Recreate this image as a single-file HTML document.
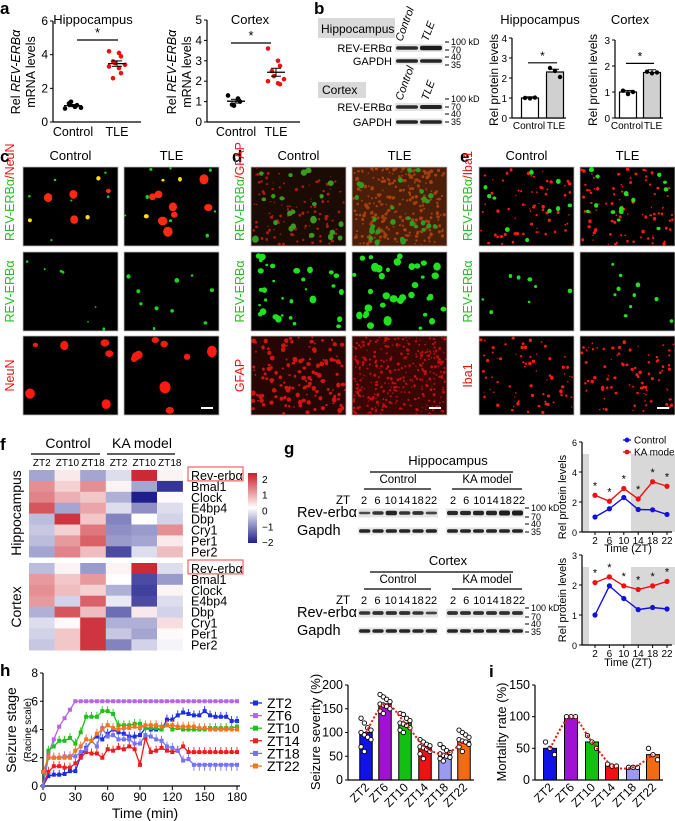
<!DOCTYPE html>
<html><head><meta charset="utf-8"><style>
html,body{margin:0;padding:0;background:#fff}
svg{display:block;font-family:"Liberation Sans",Arial,sans-serif}
</style></head><body>
<svg id="fig" width="675" height="821" viewBox="0 0 675 821" xmlns="http://www.w3.org/2000/svg">
<g id="static" font-size="11" fill="#000">
<text x="0" y="14" font-size="17" font-weight="bold">a</text>
<text x="314" y="14" font-size="17" font-weight="bold">b</text>
<text x="0" y="162" font-size="17" font-weight="bold">c</text>
<text x="232" y="162" font-size="17" font-weight="bold">d</text>
<text x="460" y="162" font-size="17" font-weight="bold">e</text>
<text x="0" y="450" font-size="17" font-weight="bold">f</text>
<text x="284" y="454" font-size="17" font-weight="bold">g</text>
<text x="0" y="676" font-size="17" font-weight="bold">h</text>
<text x="489" y="677" font-size="17" font-weight="bold">i</text>

<text x="93" y="24" font-size="13" text-anchor="middle">Hippocampus</text>
<text x="250" y="24" font-size="13" text-anchor="middle">Cortex</text>
<text transform="translate(20,72) rotate(-90)" font-size="12.5" text-anchor="middle">Rel <tspan font-style="italic">REV-ERBα</tspan></text>
<text transform="translate(35,72) rotate(-90)" font-size="12.5" text-anchor="middle">mRNA levels</text>
<text transform="translate(176,72) rotate(-90)" font-size="12.5" text-anchor="middle">Rel <tspan font-style="italic">REV-ERBα</tspan></text>
<text transform="translate(191,72) rotate(-90)" font-size="12.5" text-anchor="middle">mRNA levels</text>

<rect x="318" y="18" width="77" height="20" fill="#d9d9d9"/>
<text x="321" y="33" font-size="12">Hippocampus</text>
<rect x="318" y="82" width="48" height="16" fill="#d9d9d9"/>
<text x="322" y="94" font-size="12">Cortex</text>
<text x="392" y="52" font-size="11" text-anchor="end">REV-ERBα</text>
<text x="392" y="65" font-size="11" text-anchor="end">GAPDH</text>
<text x="392" y="111" font-size="11" text-anchor="end">REV-ERBα</text>
<text x="392" y="126" font-size="11" text-anchor="end">GAPDH</text>
<text transform="translate(402,42) rotate(-70)" font-size="11" font-style="italic">Control</text>
<text transform="translate(428,42) rotate(-70)" font-size="11" font-style="italic">TLE</text>
<text transform="translate(402,101) rotate(-70)" font-size="11" font-style="italic">Control</text>
<text transform="translate(428,101) rotate(-70)" font-size="11" font-style="italic">TLE</text>
<text x="540" y="24" font-size="13" text-anchor="middle">Hippocampus</text>
<text x="630" y="24" font-size="13" text-anchor="middle">Cortex</text>
<text transform="translate(498,80) rotate(-90)" font-size="12" text-anchor="middle">Rel protein levels</text>
<text transform="translate(597,80) rotate(-90)" font-size="12" text-anchor="middle">Rel protein levels</text>

<text x="68" y="448" font-size="14" text-anchor="middle">Control</text>
<line x1="31" y1="454" x2="100" y2="454" stroke="#000" stroke-width="1.2"/>
<text x="142" y="448" font-size="14" text-anchor="middle">KA model</text>
<line x1="107" y1="454" x2="175" y2="454" stroke="#000" stroke-width="1.2"/>
<text transform="translate(21,513) rotate(-90)" font-size="14" text-anchor="middle">Hippocampus</text>
<text transform="translate(21,607) rotate(-90)" font-size="14" text-anchor="middle">Cortex</text>

<text transform="translate(566,497) rotate(-90)" font-size="11" text-anchor="middle">Rel protein levels</text>
<text transform="translate(566,600) rotate(-90)" font-size="11" text-anchor="middle">Rel protein levels</text>
<text x="628" y="552" font-size="11" text-anchor="middle">Time (ZT)</text>
<text x="628" y="666" font-size="11" text-anchor="middle">Time (ZT)</text>

<text transform="translate(16,730) rotate(-90)" font-size="14" text-anchor="middle">Seizure stage</text>
<text transform="translate(31,730) rotate(-90)" font-size="10" text-anchor="middle">(Racine scale)</text>
<text x="145" y="818" font-size="14" text-anchor="middle">Time (min)</text>
<text transform="translate(320,732) rotate(-90)" font-size="13" text-anchor="middle">Seizure severity (%)</text>
<text transform="translate(506,732) rotate(-90)" font-size="13" text-anchor="middle">Mortality rate (%)</text>
</g>
<g id="dyn"></g>
</svg>
<script>
// ---------- data ----------
const aHippCtrl=[0.8,0.9,1.0,1.1,1.2,0.85];
const aHippTle=[4.2,4.1,3.9,3.6,3.5,3.4,3.3,3.2,2.9,2.6];
const aCtxCtrl=[1.3,1.15,1.0,0.85,0.8];
const aCtxTle=[3.6,3.0,2.75,2.5,2.25,2.1,2.0,1.9,1.85];
const bCats=['Control','TLE'];
const bHippVals=[1.0,2.3];
const bHippPts=[[1.0,0.98,1.02],[2.5,2.35,2.05]];
const bCtxVals=[1.0,1.75];
const bCtxPts=[[1.05,0.92,1.0],[1.78,1.72,1.75]];
const hmCols=['ZT2','ZT10','ZT18','ZT2','ZT10','ZT18'];
const hmGenes=['Rev-erbα','Bmal1','Clock','E4bp4','Dbp','Cry1','Per1','Per2'];
const hmHipp=[[-0.8,0.2,-0.8,-0.3,1.9,0.1],[1.0,0.4,1.0,0.1,-0.8,-1.8],[1.1,0.7,0.5,-0.7,-2,0.05],[1.5,-0.8,0.8,-0.3,-1.0,-0.3],[-0.6,1.8,0.5,-1.1,0,-0.4],[-0.5,0.4,1.2,-1.0,-0.9,1.0],[-0.6,0.9,1.4,-0.9,-0.8,0.2],[-0.8,1.1,0.6,-1.6,-0.3,0.6]];
const hmCtx=[[-0.6,0.1,-0.9,0.1,1.9,-0.3],[0.9,0.5,0.9,0,-1.6,-0.9],[1.0,0.6,0.4,-0.7,-1.7,0.1],[0.9,-0.4,1.4,-0.2,-1.6,-0.3],[-0.7,1.5,0.6,-1.3,0.2,-0.4],[-0.3,0.05,1.8,-0.7,-0.7,0.3],[-0.4,0.5,1.8,-0.5,-0.8,0.05],[-0.5,0.5,1.8,-1.1,-0.4,-0.1]];
const zt=[2,6,10,14,18,22];
const gHippCtrl=[1.0,1.55,2.3,1.5,1.48,1.17];
const gHippKA=[2.45,2.05,2.9,2.2,3.35,3.05];
const gCtxCtrl=[1.0,1.97,1.55,1.18,1.25,1.2];
const gCtxKA=[2.08,2.27,1.97,1.85,1.97,2.12];
const gHippBand=[0.55,0.8,1.0,0.8,0.85,0.6,0.95,0.95,1.0,1.0,1.1,1.1];
const gCtxBand=[0.8,0.85,0.85,0.85,0.8,0.6,0.85,0.85,0.85,0.85,0.85,0.85];
const hNames=['ZT2','ZT6','ZT10','ZT14','ZT18','ZT22'];
const hZT2=[0,0.7,0.8,0.8,0.85,1.05,1.05,2.1,2.7,3.2,3.5,3.3,3.7,4,3.8,3.7,3.5,3.5,3.6,4.1,4,4,4,4.7,4.7,5,5.2,5.1,5,5,5.3,5,4.9,4.9,4.9,4.6,4.6];
const hZT6=[0,2.3,3.3,4.2,4.8,5.4,6,6,6,6,6,6,6,6,6,6,6,6,6,6,6,6,6,6,6,6,6,6,6,6,6,6,6,6,6,6,6];
const hZT10=[0,2.5,2.8,3.2,3.2,3.4,3,3.8,4.9,4.9,4.9,5.3,5.3,5.1,4.3,4.3,4.3,4.4,4.4,4.1,4.1,4.1,4,4.3,4,4.1,4,4,4,4,4,4.1,4.1,4.1,4.1,4.1,4.2];
const hZT14=[0,1,1.4,1.4,1.3,1.3,1.6,2,2.4,2.3,2.3,2,2.6,2.5,2.7,2.6,2.8,2.6,1.5,3.4,2.4,2.5,2.7,2.5,2.4,2.5,2.8,2.4,2.4,2.4,2.4,2.4,2.4,2.4,2.4,2.4,2.4];
const hZT18=[0,2,2,2,2.1,2.1,2.1,2.4,2.6,3.2,2.8,4.1,3.5,3.6,3.3,3.3,3.3,3,3,3.6,3.5,3.3,3.2,2.8,2.7,2.5,1.8,1.9,1.5,1.5,1.5,1.5,1.5,1.5,1.5,1.5,1.5];
const hZT22=[1,2,2,2,2,2,2.5,2.8,3.3,3.2,3.7,4,4.3,4.1,4,4.1,4.1,4.2,4.1,4.3,4.3,4.3,4.2,4.3,4.3,4.2,4.2,4.2,4.2,4.1,4.1,4,4,4,4,4,4];
const hSeries=[hZT2,hZT6,hZT10,hZT14,hZT18,hZT22];
const hXTicks=[0,30,60,90,120,150,180];
const hYTicks=[0,2,4,6,8];
const sevVals=[100,160,120,70,55,82];
const sevPts=[[130,120,110,105,100,95,90,85,70,60],[180,175,170,165,160,158,155,150,145,140],[140,138,130,125,120,118,115,110,105,100],[85,80,75,72,70,68,65,60,55,45],[75,68,62,58,55,52,50,48,45,40],[105,100,95,90,85,82,80,75,70,60]];
const sevTicks=[0,50,100,150,200];
const mortVals=[50,100,60,23,20,40];
const mortPts=[[60,50,40],[100,100,100],[70,60,50],[25,22,22],[20,20,20],[50,40,32]];
const mortTicks=[0,50,100,150];
const barColors=['#1212e6','#a012d2','#12c012','#f01212','#9a9af2','#f26a12'];
const lineColors=['#1a2ee6','#b764e6','#1cc21c','#f01c1c','#7474f2','#f27424'];

// ---------- helpers ----------
const NS='http://www.w3.org/2000/svg';
const root=document.getElementById('dyn');
function mk(tag,attrs,parent){const e=document.createElementNS(NS,tag);for(const k in attrs)e.setAttribute(k,attrs[k]);(parent||root).appendChild(e);return e;}
function txt(s,attrs,parent){const e=mk('text',attrs,parent);e.textContent=s;return e;}
function yAxis(x,scale,ticks,labels,name,fs){
  const g=mk('g',{});
  
  
  mk('line',{x1:x,y1:scale(ticks[ticks.length-1]),x2:x,y2:scale(ticks[0]),stroke:'#000','stroke-width':1.2},g);
  ticks.forEach((t,i)=>{
    mk('line',{x1:x-3,y1:scale(t),x2:x,y2:scale(t),stroke:'#000','stroke-width':1},g);
    const l=txt(labels?labels[i]:String(t),{x:x-5,y:scale(t)+4,'text-anchor':'end','font-size':fs||11},g);
    
    
  });
  return g;
}
function xLine(x1,x2,y){mk('line',{x1:x1,y1:y,x2:x2,y2:y,stroke:'#000','stroke-width':1.2});}
function mean(a){return a.reduce((s,v)=>s+v,0)/a.length;}
function sem(a){const m=mean(a);return Math.sqrt(a.reduce((s,v)=>s+(v-m)*(v-m),0)/(a.length-1))/Math.sqrt(a.length);}

// ---------- panel a ----------
function scatterPanel(axisX,y0,top,maxV,ticks,ctrl,tle,cx,tx,name,sigY,sigX1,sigX2){
  const sc=v=>y0-v*(y0-top)/maxV;
  yAxis(axisX,sc,ticks,null,name+'-y-axis',12);
  xLine(axisX,tx+24,y0);
  [[ctrl,cx,'#000'],[tle,tx,'#f01010']].forEach(([arr,x,col],gi)=>{
    arr.forEach((v,i)=>{
      const off=((i%3)-1)*6+(i%2?2:-2);
      const c=mk('circle',{cx:x+off,cy:sc(v),r:2.3,fill:col});
      
      
    });
    const m=mean(arr),s=sem(arr);
    mk('line',{x1:x-9,y1:sc(m),x2:x+9,y2:sc(m),stroke:'#000','stroke-width':1.3});
    mk('line',{x1:x,y1:sc(m-s),x2:x,y2:sc(m+s),stroke:'#000','stroke-width':1});
    mk('line',{x1:x-5,y1:sc(m-s),x2:x+5,y2:sc(m-s),stroke:'#000','stroke-width':1});
    mk('line',{x1:x-5,y1:sc(m+s),x2:x+5,y2:sc(m+s),stroke:'#000','stroke-width':1});
    const l=txt(gi?'TLE':'Control',{x:x,y:y0+14,'text-anchor':'middle','font-size':12.5});
    
    
  });
  mk('line',{x1:sigX1,y1:sigY,x2:sigX2,y2:sigY,stroke:'#000','stroke-width':1.3});
  txt('*',{x:(sigX1+sigX2)/2,y:sigY-3,'text-anchor':'middle','font-size':13});
}
scatterPanel(53,122,21,6,[0,2,4,6],aHippCtrl,aHippTle,73,117,'a-hipp',40,77,118);
scatterPanel(207,122,20,5,[0,1,2,3,4,5],aCtxCtrl,aCtxTle,236,276,'a-ctx',43,231,271);

// ---------- panel b ----------
function blot(x,y,w,h,n,intens,name){
  const g=mk('g',{});
  
  
  mk('rect',{x:x,y:y-h,width:w,height:h*2,fill:'#e4e4e4'},g);
  const lw=w/n;
  for(let i=0;i<n;i++){
    const v=intens[i];
    mk('rect',{x:x+i*lw+1,y:y-h/2*v,width:lw-2,height:h*v,rx:2,fill:'#1a1a1a',opacity:Math.min(1,0.55+v*0.4)},g);
  }
  return g;
}
function kd(x,y,labels){labels.forEach(([t,dy])=>{mk('line',{x1:x,y1:y+dy,x2:x+4,y2:y+dy,stroke:'#000'});txt(t,{x:x+6,y:y+dy+3,'font-size':9});});}
blot(395,48,48,4,2,[0.9,1.1],'b-hipp-rev-blot');
blot(395,61,48,3.5,2,[1,1],'b-hipp-gapdh-blot');
blot(395,107,48,4,2,[0.9,1.0],'b-ctx-rev-blot');
blot(395,122,48,3.5,2,[1,1],'b-ctx-gapdh-blot');
kd(445,40,[['100 kD',2],['70',10],['40',17],['35',25]]);
kd(445,97,[['100 kD',2],['70',10],['40',17],['35',25]]);
function barPair(axisX,y0,top,maxV,ticks,vals,pts,xs,name){
  const sc=v=>y0-v*(y0-top)/maxV;
  yAxis(axisX,sc,ticks,null,name+'-y-axis',10);
  xLine(axisX,xs[1]+11,y0);
  vals.forEach((v,i)=>{
    const r=mk('rect',{x:xs[i]-8.5,y:sc(v),width:17,height:y0-sc(v),fill:i?'#d0d0d0':'#fff',stroke:'#000','stroke-width':1.2});
    
    
    pts[i].forEach((p,j)=>{const c=mk('circle',{cx:xs[i]-5+j*5,cy:sc(p),r:2.2,fill:'#000'});
      
      });
    mk('line',{x1:xs[i],y1:sc(v*1.06),x2:xs[i],y2:sc(v),stroke:'#000'});
    mk('line',{x1:xs[i]-4,y1:sc(v*1.06),x2:xs[i]+4,y2:sc(v*1.06),stroke:'#000'});
    const l=txt(bCats[i],{x:xs[i]+(i?1:-1),y:y0+11,'text-anchor':'middle','font-size':10});
    
    
  });
  const sy=sc(Math.max(...vals)*1.2);
  mk('line',{x1:xs[0]-2,y1:sy,x2:xs[1]+2,y2:sy,stroke:'#000','stroke-width':1.2});
  txt('*',{x:(xs[0]+xs[1])/2,y:sy-3,'text-anchor':'middle','font-size':12});
}
barPair(512,118,38,4,[0,1,2,3,4],bHippVals,bHippPts,[530,555],'b-hipp');
barPair(615,118,40,3,[0,1,2,3],bCtxVals,bCtxPts,[628,652],'b-ctx');

// ---------- microscopy panels (decorative texture) ----------
let seed=7;function rnd(){seed=(seed*16807)%2147483647;return seed/2147483647;}
function speck(g,x,y,w,h,n,col,rmin,rmax){for(let i=0;i<n;i++){const r=rmin+rnd()*(rmax-rmin);mk('ellipse',{cx:x+r+rnd()*(w-2*r),cy:y+r+rnd()*(h-2*r),rx:r,ry:r*(0.8+rnd()*0.4),fill:col},g);}}
const cols=[[23,124],[251,352],[479,580]];
const rows=[167,252,336];
const IW=95,IH=79;
const specs=[
 [[['#ff2a10',4,2.5,4.5],['#ffe000',3,1.5,2.2],['#20d020',6,0.8,1.4]],[['#ff2a10',8,2.5,5],['#ffe000',3,1.5,2.5],['#20d020',8,1,1.8]]],
 [[['#20d020',7,0.8,1.5]],[['#20d020',10,1,2.5]]],
 [[['#ff1a10',6,2.5,5]],[['#ff1a10',9,2.5,5.5]]],
 [[['#b01a0c',110,0.6,1.6],['#3a9a20',22,2,3.5]],[['#a5400e',260,0.8,1.8],['#2f9a20',28,2,3]]],
 [[['#20e020',32,1.2,3.5]],[['#20e020',36,1.8,4.2]]],
 [[['#d01510',140,0.8,2.5]],[['#c01010',330,0.6,1.5]]],
 [[['#ff1a10',70,0.6,1.8],['#20e020',10,1.8,2.6]],[['#ff1a10',90,0.6,1.8],['#20e020',14,1.8,2.6]]],
 [[['#20e020',8,1.3,2.4]],[['#20e020',10,1.3,2.4]]],
 [[['#ff1a10',70,0.6,1.8]],[['#ff1a10',85,0.6,1.7]]]
];
const baseFill=[['#000','#000'],['#000','#000'],['#000','#000'],['#1a0c04','#4a1e08'],['#000','#000'],['#260604','#3a0604'],['#000','#000'],['#000','#000'],['#000','#000']];
const rowNames=[['merged','rev-erba','neun'],['merged','rev-erba','gfap'],['merged','rev-erba','iba1']];
const panelNames=['c','d','e'];
for(let p=0;p<3;p++){
  for(let r=0;r<3;r++){
    for(let c=0;c<2;c++){
      const g=mk('g',{});
      
      
      const x=cols[p][c],y=rows[r];
      mk('rect',{x:x,y:y,width:IW,height:IH,fill:baseFill[p*3+r][c],stroke:'#bbb','stroke-width':0.8},g);
      specs[p*3+r][c].forEach(s=>speck(g,x,y,IW,IH,s[1],s[0],s[2],s[3]));
      if(r===2&&c===1)mk('rect',{x:x+IW-18,y:y+IH-8,width:12,height:2,fill:'#fff'},g);
    }
  }
  const t1=txt('Control',{x:cols[p][0]+IW/2,y:160,'text-anchor':'middle','font-size':13});
  
  
  const t2=txt('TLE',{x:cols[p][1]+IW/2,y:160,'text-anchor':'middle','font-size':13});
  
  
}
const sideLabels=[['NeuN','NeuN'],['GFAP','GFAP'],['Iba1','Iba1']];
const sideX=[14,244,472];
for(let p=0;p<3;p++){
  const l1=mk('text',{transform:`translate(${sideX[p]},${rows[0]+IH-5}) rotate(-90)`,'text-anchor':'start','font-size':12.5});
  
  
  const a=mk('tspan',{fill:'#22c022'},l1);a.textContent='REV-ERBα';
  const b=mk('tspan',{fill:'#ee1010'},l1);b.textContent='/'+sideLabels[p][0];
  const l2=txt('REV-ERBα',{transform:`translate(${sideX[p]},${rows[1]+IH/2}) rotate(-90)`,'text-anchor':'middle','font-size':12.5,fill:'#22c022'});
  
  
  const l3=txt(sideLabels[p][1],{transform:`translate(${sideX[p]},${rows[2]+IH/2}) rotate(-90)`,'text-anchor':'middle','font-size':12.5,fill:'#ee1010'});
  
  
}

// ---------- panel f heatmap ----------
function heatCol(v){v=Math.max(-2,Math.min(2,v));let t=Math.abs(v)/2;const e=v>0?[200,30,40]:[30,30,140];
  return `rgb(${Math.round(255+(e[0]-255)*t)},${Math.round(255+(e[1]-255)*t)},${Math.round(255+(e[2]-255)*t)})`;}
const HX=29,HW=25.6,HH=10.9;
hmCols.forEach((c,i)=>{const l=txt(c,{x:HX+HW*i+HW/2,y:466,'text-anchor':'middle','font-size':10});
  
  });
[[hmHipp,470,'hipp'],[hmCtx,563,'ctx']].forEach(([m,y0,nm])=>{
  m.forEach((row,r)=>{
    row.forEach((v,c)=>{const cell=mk('rect',{x:HX+c*HW,y:y0+r*HH,width:HW+0.3,height:HH+0.3,fill:heatCol(v)});
      
      });
    const l=txt(hmGenes[r],{x:191,y:y0+r*HH+HH/2+4.5,'font-size':12.5});
    
    
  });
  const box=mk('rect',{x:188,y:y0-3,width:55,height:HH+3,fill:'none',stroke:'#f04040','stroke-width':1});
  
  
});
const defs=mk('defs',{});
const grad=mk('linearGradient',{id:'cb',x1:0,y1:0,x2:0,y2:1},defs);
[[0,2],[0.5,0],[1,-2]].forEach(([o,v])=>mk('stop',{offset:o,'stop-color':heatCol(v)},grad));
const cbar=mk('rect',{x:248,y:473,width:9,height:70,fill:'url(#cb)'});


[2,1,0,-1,-2].forEach(v=>{const l=txt(v<0?'−'+(-v):String(v),{x:262,y:510.5-v*15.8+4,'font-size':10});
  
  });

// ---------- panel g blots ----------
function gBlot(y,title,bandRev){
  txt(title,{x:448,y:y,'text-anchor':'middle','font-size':13});
  mk('line',{x1:370,y1:y+7,x2:513,y2:y+7,stroke:'#000','stroke-width':1.2});
  txt('Control',{x:398,y:y+18,'text-anchor':'middle','font-size':11.5});
  mk('line',{x1:364,y1:y+24,x2:431,y2:y+24,stroke:'#000','stroke-width':1.2});
  txt('KA model',{x:487,y:y+18,'text-anchor':'middle','font-size':11.5});
  mk('line',{x1:452,y1:y+24,x2:522,y2:y+24,stroke:'#000','stroke-width':1.2});
  txt('ZT',{x:343,y:y+39,'text-anchor':'middle','font-size':11.5});
  zt.forEach((z,i)=>{txt(String(z),{x:364+i*13.4,y:y+39,'text-anchor':'middle','font-size':11});txt(String(z),{x:453+i*13.2,y:y+39,'text-anchor':'middle','font-size':11});});
  txt('Rev-erbα',{x:297,y:y+52,'font-size':14.5});
  txt('Gapdh',{x:297,y:y+70,'font-size':14.5});
  blot(358,y+48,80,4.5,6,bandRev.slice(0,6),'g-control-rev-blot');
  blot(446,y+48,78,4.5,6,bandRev.slice(6),'g-ka-rev-blot');
  blot(358,y+66,80,3.5,6,[1,1,1,1,1,1],'g-control-gapdh-blot');
  blot(446,y+66,78,3.5,6,[1,1,1,1,1,1],'g-ka-gapdh-blot');
  kd(525,y+43,[['100 kD',0],['70',9],['40',16],['35',24]]);
}
gBlot(465,'Hippocampus',gHippBand);
gBlot(565,'Cortex',gCtxBand);

// ---------- panel g line charts ----------
function gChart(y0,top,maxV,ticks,ctrl,ka,shadeV,name,legend){
  const sy=v=>y0-v*(y0-top)/maxV;
  const sx=z=>595+(z-2)*72/20;
  mk('rect',{x:582,y:sy(shadeV),width:7,height:y0-sy(shadeV),fill:'#d8d8d8'});
  mk('rect',{x:631,y:sy(shadeV),width:44,height:y0-sy(shadeV),fill:'#d8d8d8'});
  yAxis(582,sy,ticks,null,name+'-y-axis',9);
  xLine(582,672,y0);
  zt.forEach(z=>{mk('line',{x1:sx(z),y1:y0,x2:sx(z),y2:y0+3,stroke:'#000'});
    const l=txt(String(z),{x:sx(z),y:y0+12,'text-anchor':'middle','font-size':10});
    
    });
  [[ctrl,'#1010e0','control'],[ka,'#f01010','ka']].forEach(([arr,col,nm])=>{
    const ln=mk('polyline',{points:arr.map((v,i)=>sx(zt[i])+','+sy(v)).join(' '),fill:'none',stroke:col,'stroke-width':1.4});
    
    
    arr.forEach((v,i)=>{const c=mk('circle',{cx:sx(zt[i]),cy:sy(v),r:2.6,fill:col});
      
      
      if(nm==='ka')txt('*',{x:sx(zt[i]),y:sy(v)-6,'text-anchor':'middle','font-size':11});});
  });
  if(legend){
    [['Control','#1010e0',440],['KA model','#f01010',452]].forEach(([t,c,y])=>{
      mk('line',{x1:623,y1:y,x2:631,y2:y,stroke:c,'stroke-width':1.3});
      mk('circle',{cx:627,cy:y,r:2.4,fill:c});
      const l=txt(t,{x:634,y:y+3.5,'font-size':10});
      
      
    });
  }
}
gChart(532,442,6,[0,2,4,6],gHippCtrl,gHippKA,5.2,'g-hipp',true);
gChart(645,555,3,[0,1,2,3],gCtxCtrl,gCtxKA,2.6,'g-ctx',false);

// ---------- panel h ----------
(function(){
  const sx=t=>43+t*194/180, sy=v=>786-v*113/8;
  yAxis(43,sy,hYTicks,null,'h-y-axis',12);
  xLine(43,240,786);
  hXTicks.forEach(t=>{mk('line',{x1:sx(t),y1:786,x2:sx(t),y2:790,stroke:'#000'});
    const l=txt(String(t),{x:sx(t),y:801,'text-anchor':'middle','font-size':12});
    
    });
  hSeries.forEach((s,k)=>{
    const col=lineColors[k];
    const ln=mk('polyline',{points:s.map((v,i)=>sx(i*5)+','+sy(v)).join(' '),fill:'none',stroke:col,'stroke-width':1.3});
    
    
    s.forEach((v,i)=>{
      if(i>0&&k!==1){mk('line',{x1:sx(i*5),y1:sy(v),x2:sx(i*5),y2:sy(v)-(k===4&&i>27?-6:5),stroke:col,'stroke-width':0.9});}
      const m=mk('rect',{x:sx(i*5)-2,y:sy(v)-2,width:4,height:4,fill:col});
      
      
    });
    const ly=703+k*12.6;
    mk('line',{x1:250,y1:ly,x2:262,y2:ly,stroke:col,'stroke-width':1.3});
    mk('rect',{x:253,y:ly-2.5,width:5,height:5,fill:col});
    const l=txt(hNames[k],{x:267,y:ly+5,'font-size':14});
    
    
  });
})();

// ---------- severity & mortality bars ----------
function dotted(points){let d='M'+points[0][0]+','+points[0][1];
  for(let i=0;i<points.length-1;i++){const p0=points[Math.max(0,i-1)],p1=points[i],p2=points[i+1],p3=points[Math.min(points.length-1,i+2)];
    d+=` C${p1[0]+(p2[0]-p0[0])/6},${p1[1]+(p2[1]-p0[1])/6} ${p2[0]-(p3[0]-p1[0])/6},${p2[1]-(p3[1]-p1[1])/6} ${p2[0]},${p2[1]}`;}
  return d;}
function barChart(axisX,xs,bw,y0,top,maxV,ticks,vals,pts,name){
  const sy=v=>y0-v*(y0-top)/maxV;
  yAxis(axisX,sy,ticks,null,name+'-y-axis',12.5);
  xLine(axisX,xs[5]+10,y0);
  vals.forEach((v,i)=>{
    const r=mk('rect',{x:xs[i]-bw/2,y:sy(v),width:bw,height:y0-sy(v),fill:barColors[i],stroke:'#000','stroke-width':1});
    
    
    pts[i].forEach((p,j)=>{const n=pts[i].length;const off=n>3?((j%4)-1.5)*3.3:(j-1)*4.5;
      const c=mk('circle',{cx:xs[i]+off,cy:sy(p),r:2.2,fill:'#fff',stroke:'#000','stroke-width':0.9});
      
      });
    const l=txt(hNames[i],{transform:`translate(${xs[i]+4},${y0+8}) rotate(-45)`,'text-anchor':'end','font-size':12});
    
    
  });
  const c=mk('path',{d:dotted(vals.map((v,i)=>[xs[i],sy(v)])),fill:'none',stroke:'#f01010','stroke-width':2,'stroke-dasharray':'2,2'});
  
  
}
barChart(348,[366,385,405,425,445,464],12.5,780,685,200,sevTicks,sevVals,sevPts,'severity');
barChart(535,[550,571,592,612,633,653],13,780,685,150,mortTicks,mortVals,mortPts,'mortality');
</script>
</body></html>
